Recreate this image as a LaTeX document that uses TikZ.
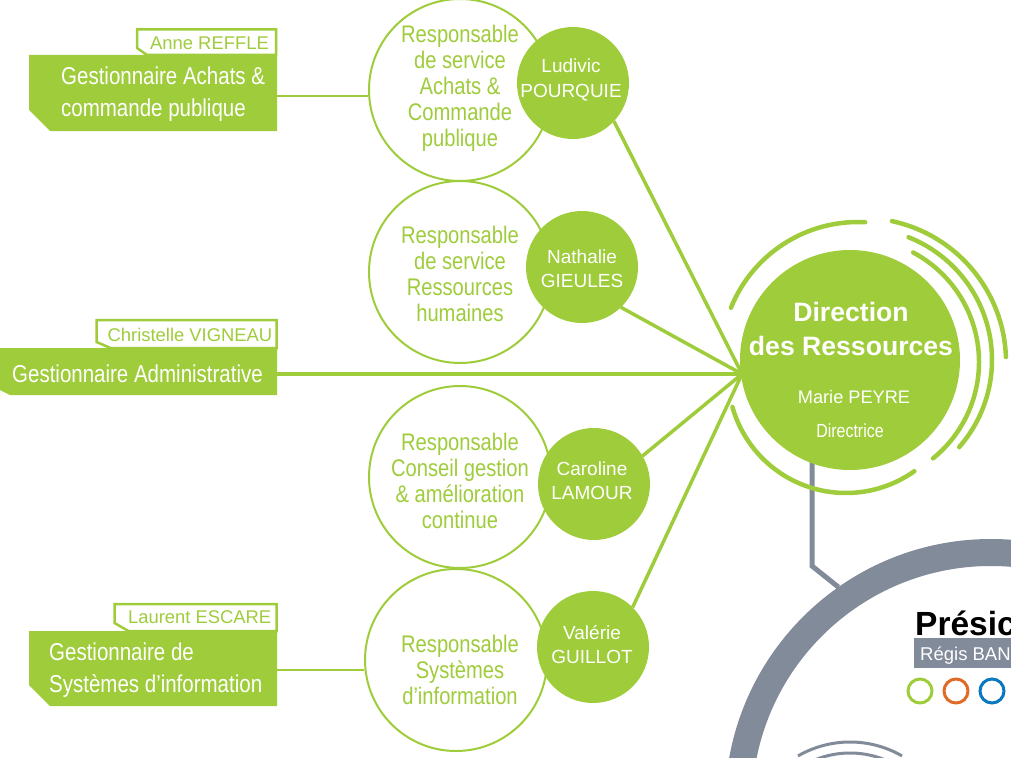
\documentclass[tikz,border=0pt]{standalone}
\usepackage{xcolor}
\usepackage{fontspec}
\setmainfont{Liberation Sans}
\newfontfamily\narrowfont[FakeStretch=0.84]{Liberation Sans}
\definecolor{ressgreen}{HTML}{9FCC3B}
\definecolor{ressgrey}{HTML}{828B9A}
\definecolor{ressorange}{HTML}{E06B26}
\definecolor{ressblue}{HTML}{0A78BE}
% outline of a box with its lower left corner cut off
\newcommand{\cutcorner}[4]{\path[#2] (#1.north west) -- (#1.north east) -- (#1.south east) -- ([xshift=#3pt]#1.south west) -- ([yshift=#4pt]#1.south west) -- cycle;}
\tikzset{
	gestbox/.style = {rectangle, inner sep=0pt, outer sep=0pt},
	gestfill/.style = {fill=ressgreen},
	tagfill/.style = {draw=ressgreen, fill=white, line width=2.5pt},
	gesttext/.style = {text=white, align=left, inner sep=0pt, font=\narrowfont\fontsize{24.4}{32}\selectfont},
	tagtext/.style = {text=ressgreen, inner sep=0pt, font=\fontsize{18.4}{20}\selectfont},
	respring/.style = {circle, draw=ressgreen, line width=2pt, fill=white, minimum size=182pt, inner sep=0pt},
	resptext/.style = {text=ressgreen, align=center, inner sep=0pt, font=\narrowfont\fontsize{24}{26}\selectfont},
	persdisc/.style = {circle, fill=ressgreen, minimum size=112pt, inner sep=0pt, outer sep=0pt},
	perstext/.style = {text=white, align=center, inner sep=0pt, font=\fontsize{19}{24.5}\selectfont},
	biglink/.style = {draw=ressgreen, line width=3.5pt},
	thinlink/.style = {draw=ressgreen, line width=2pt},
	swoosh/.style = {draw=ressgreen, line width=4.5pt, line cap=round},
	dotring/.style = {circle, line width=3pt, minimum size=24pt, inner sep=0pt}
}
\begin{document}
\begin{tikzpicture}[x=1pt,y=-1pt]
	\clip (0,0) rectangle (1011,757);
	% the grey presidence part
	\node[circle, draw=ressgrey, line width=27pt, minimum size=505pt, inner sep=0pt] (presidence) at (991,805) {};
	\draw[ressgrey, line width=3pt] (850,846) ++(-60:104) arc[start angle=-60, end angle=-120, radius=104];
	\draw[ressgrey, line width=3pt] (850,846) ++(-60:93) arc[start angle=-60, end angle=-120, radius=93];
	\coordinate (elbow) at (812,566);
	\coordinate (hub) at (742,374);
	\node[anchor=base west, inner sep=0pt, font=\bfseries\fontsize{33.5}{36}\selectfont] (presidenttext) at (915,635) {Présic};
	\fill[ressgrey] (914,638) rectangle (1011,668);
	\node[anchor=base west, inner sep=0pt, text=white, font=\fontsize{18.5}{20}\selectfont] (regis) at (920,660) {Régis BAN};
	\node[dotring, draw=ressgreen] (dotgreen) at (920,691) {};
	\node[dotring, draw=ressorange] (dotorange) at (956,691) {};
	\node[dotring, draw=ressblue] (dotblue) at (992,691) {};
	% the big rings with their titles
	\node[respring] (resp1) at (460,90) {};
	\node[respring] (resp2) at (460,272) {};
	\node[respring] (resp3) at (460,477) {};
	\node[respring] (resp4) at (456,660) {};
	\node[resptext] (resp1text) at (460,88.5) {Responsable\\de service\\Achats \&\\Commande\\publique};
	\node[resptext] (resp2text) at (460,273.5) {Responsable\\de service\\Ressources\\humaines};
	\node[resptext] (resp3text) at (460,481) {Responsable\\Conseil gestion\\\& amélioration\\continue};
	\node[resptext] (resp4text) at (460,670) {Responsable\\Systèmes\\d’information};
	% the people
	\node[persdisc] (ludivic) at (573,83) {};
	\node[persdisc] (nathalie) at (582,267) {};
	\node[persdisc] (caroline) at (594,484) {};
	\node[persdisc] (valerie) at (593,647) {};
	\node[perstext] (ludivictext) at (571,80) {Ludivic\\POURQUIE};
	\node[perstext] (nathalietext) at (582,268.5) {Nathalie\\GIEULES};
	\node[perstext] (carolinetext) at (592,480.5) {Caroline\\LAMOUR};
	\node[perstext] (valerietext) at (592,644.5) {Valérie\\GUILLOT};
	% the gestionnaires
	\node[gestbox, minimum width=139pt, minimum height=25.5pt] (tag1) at (206.5,42.25) {};
	\node[gestbox, minimum width=180pt, minimum height=28pt] (tag2) at (186.5,334) {};
	\node[gestbox, minimum width=162pt, minimum height=27pt] (tag3) at (195.5,617.5) {};
	\cutcorner{tag1}{tagfill}{10}{7}
	\cutcorner{tag2}{tagfill}{14}{6}
	\cutcorner{tag3}{tagfill}{14}{8}
	\node[gestbox, minimum width=248pt, minimum height=76pt] (gest1) at (153,93) {};
	\node[gestbox, minimum width=277pt, minimum height=47pt] (gest2) at (138.5,371.5) {};
	\node[gestbox, minimum width=248pt, minimum height=75pt] (gest3) at (153,668.5) {};
	\cutcorner{gest1}{gestfill}{21}{21}
	\cutcorner{gest2}{gestfill}{10}{5}
	\cutcorner{gest3}{gestfill}{21}{21}
	\node[gesttext, anchor=west] (gest1text) at (61,94) {Gestionnaire Achats \&\\commande publique};
	\node[gesttext, anchor=west] (gest2text) at (12,374) {Gestionnaire Administrative};
	\node[gesttext, anchor=west] (gest3text) at (49,670) {Gestionnaire de\\Systèmes d’information};
	\node[tagtext, anchor=east] (anne) at ([xshift=-7pt,yshift=-1pt]tag1.east) {Anne REFFLE};
	\node[tagtext, anchor=east] (christelle) at ([xshift=-4pt,yshift=-1pt]tag2.east) {Christelle VIGNEAU};
	\node[tagtext, anchor=east] (laurent) at ([xshift=-5pt]tag3.east) {Laurent ESCARE};
	% the links
	\draw[thinlink] ([yshift=-3pt]gest1.east) -- ([yshift=-6pt]resp1.west);
	\draw[thinlink] ([yshift=-1.5pt]gest3.east) -- ([yshift=-10pt]resp4.west);
	\draw[biglink] ([yshift=-2.5pt]gest2.east) -- (hub);
	\draw[biglink] (ludivic.-43) -- (hub);
	\draw[biglink] (nathalie.-46) -- (hub);
	\draw[biglink] (caroline.30) -- (hub);
	\draw[biglink] (valerie.45) -- (hub);
	\draw[ressgrey, line width=5pt] (elbow |- hub) -- (elbow) -- (presidence.125);
	% the direction
	\node[circle, fill=ressgreen, minimum size=220pt, inner sep=0pt] (direction) at (850,360) {};
	\node[text=white, align=center, inner sep=0pt, font=\bfseries\fontsize{26.6}{34}\selectfont] (directiontext) at (851,329) {Direction\\des Ressources};
	\node[text=white, inner sep=0pt, font=\fontsize{18.2}{20}\selectfont] (marie) at (854,397) {Marie PEYRE};
	\node[text=white, inner sep=0pt, font=\narrowfont\fontsize{19}{20}\selectfont] (directrice) at (850,431) {Directrice};
	\draw[swoosh] (858,359) ++(-158:137) arc[start angle=-158, end angle=-87, radius=137];
	\draw[swoosh] (846,375) ++(-195.7:118) arc[start angle=-195.7, end angle=-305.4, radius=118];
	\draw[swoosh] (862,362) ++(-78:144) arc[start angle=-78, end angle=-2, radius=144];
	\draw[swoosh] (860,360) ++(-68.4:132) arc[start angle=-68.4, end angle=41.3, radius=132];
	\draw[swoosh] (855,362) ++(-62:124) arc[start angle=-62, end angle=51, radius=124];
\end{tikzpicture}
\end{document}
